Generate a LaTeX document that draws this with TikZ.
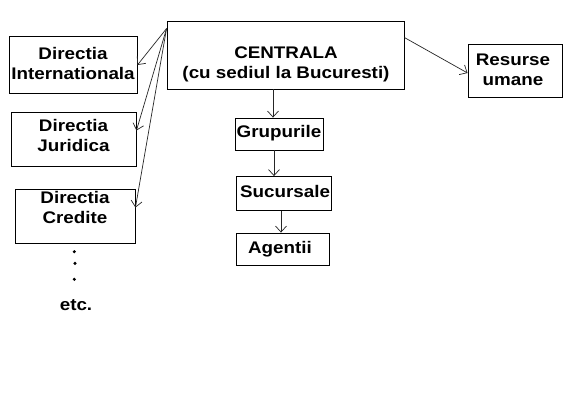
\documentclass[tikz,border=0pt]{standalone}
\usepackage{fontspec}
\setmainfont{Liberation Sans}[FakeStretch=1.12]
\usetikzlibrary{arrows.meta,calc}
\begin{document}
\begin{tikzpicture}[x=1pt,y=-1pt,
  box/.style={draw=black, line width=0.9pt, rectangle, inner sep=0pt},
  txt/.style={align=center, inner sep=0pt, anchor=base, font=\fontsize{16.8}{20}\selectfont\bfseries},
  arr/.style={draw=black!85, line width=0.7pt, -{Straight Barb[length=6pt,width=11pt]}},
  dotn/.style={circle, fill=black, inner sep=0pt, minimum size=3.4pt}]
\useasboundingbox[fill=white] (0,0) rectangle (576,408);
% boxes
\node[box, minimum width=128pt, minimum height=57pt] (intl) at (73,65) {};
\node[box, minimum width=125pt, minimum height=54pt] (jur) at (73.5,139.5) {};
\node[box, minimum width=120pt, minimum height=54pt] (cred) at (75,216) {};
\node[box, minimum width=237pt, minimum height=68pt] (central) at (285.5,55) {};
\node[box, minimum width=94pt, minimum height=53pt] (res) at (515,70.5) {};
\node[box, minimum width=88pt, minimum height=32pt] (grup) at (279,134) {};
\node[box, minimum width=95pt, minimum height=34pt] (suc) at (283.5,193.5) {};
\node[box, minimum width=93pt, minimum height=32pt] (ag) at (282.5,249) {};
% texts (base anchor = last baseline)
\node[txt] (tintl) at (73,79.3) {Directia\\Internationala};
\node[txt] (tjur) at (73.5,151.7) {Directia\\Juridica};
\node[txt] (tcred) at (75,223.5) {Directia\\Credite};
\node[txt] (tcentral) at (286,78) {CENTRALA\\(cu sediul la Bucuresti)};
\node[txt] (tres) at (513,85.5) {Resurse\\umane};
\node[txt] (tgrup) at (279,137.5) {Grupurile};
\node[txt] (tsuc) at (285,197.5) {Sucursale};
\node[txt] (tag) at (280,253) {Agentii};
% dots and etc.
\node[dotn] (d1) at (74.3,251.7) {};
\node[dotn] (d2) at (75,263.3) {};
\node[dotn] (d3) at (74.3,279.3) {};
\node[txt] (etc) at (76,310) {etc.};
% connectors
\coordinate (src) at ($(central.north west)+(0,8)$);
\draw[arr] (src) -- (intl.east);
\draw[arr] (src) -- ($(jur.east)+(0,-9)$);
\draw[arr] (src) -- ($(cred.east)+(0,-8.5)$);
\draw[arr] ($(central.north east)+(0,17)$) -- ($(res.west)+(0,2.5)$);
\draw[arr] (273,0 |- central.south) -- (273,0 |- grup.north);
\draw[arr] (274,0 |- grup.south) -- (274,0 |- suc.north);
\draw[arr] (281,0 |- suc.south) -- (281,0 |- ag.north);
\end{tikzpicture}
\end{document}
